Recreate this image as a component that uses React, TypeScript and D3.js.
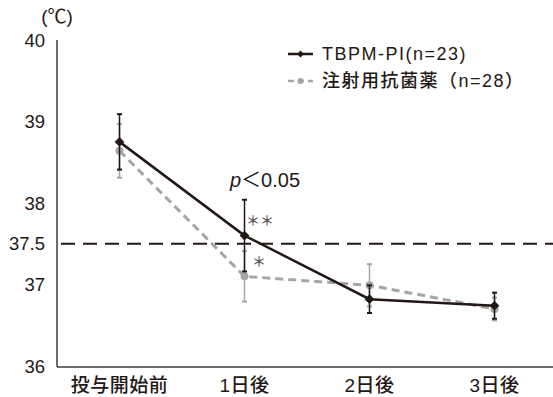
import React, { useEffect, useRef } from "react";
import * as d3 from "d3";

const categories = ["投与開始前", "1日後", "2日後", "3日後"];
const tbpmMean = [38.75, 37.6, 36.82, 36.74];
const tbpmErr = [0.34, 0.44, 0.17, 0.16];
const ivMean = [38.64, 37.1, 36.99, 36.7];
const ivErr = [0.33, 0.31, 0.26, 0.14];
const yTicks = [36, 37, 37.5, 38, 39, 40];
const seriesNames = ["TBPM-PI(n=23)", "注射用抗菌薬（n=28）"];

const FONT = "'Liberation Sans', 'Noto Sans CJK JP', sans-serif";
const JP = "'Noto Sans CJK JP', sans-serif";
const BLACK = "#231815";
const GRAY = "#a5a5a5";

const App = () => {
  const svgRef = useRef<SVGSVGElement>(null);

  useEffect(() => {
    const w = 553;
    const h = 397;
    const svg = d3.select(svgRef.current).attr("width", w).attr("height", h);
    svg.selectAll("*").remove();

    const left = 57;
    const xScale = d3.scaleBand().domain(categories).range([left, left + 500]);
    const cx = (c: string) => (xScale(c) as number) + xScale.bandwidth() / 2;
    const yScale = d3.scaleLinear().domain([36, 40]).range([366, 40]);

    // axes
    svg.append("line").attr("x1", left).attr("x2", left).attr("y1", 40).attr("y2", 367)
      .attr("stroke", "#3e3a39").attr("stroke-width", 1.5);
    svg.append("line").attr("x1", left).attr("x2", 553).attr("y1", 367).attr("y2", 367)
      .attr("stroke", "#3e3a39").attr("stroke-width", 1.5);

    svg.selectAll(".ytick").data(yTicks).join("text")
      .attr("x", 45).attr("y", (d) => yScale(d)).attr("dy", "0.36em")
      .attr("text-anchor", "end").attr("font-family", FONT).attr("font-size", 18.5)
      .attr("fill", BLACK).text((d) => String(d));

    svg.append("text").attr("x", 57).attr("y", 23).attr("text-anchor", "middle")
      .attr("font-family", FONT).attr("font-size", 19).attr("fill", BLACK).text("(℃)");

    svg.selectAll(".xlab").data(categories).join("text")
      .attr("x", (d) => cx(d)).attr("y", 392).attr("text-anchor", "middle")
      .attr("font-family", FONT).attr("font-size", 19).attr("font-weight", 500)
      .attr("letter-spacing", 0.5)
      .attr("fill", BLACK).text((d) => d);

    // 37.5 reference line
    svg.append("line").attr("x1", left + 4).attr("x2", 553)
      .attr("y1", yScale(37.5)).attr("y2", yScale(37.5))
      .attr("stroke", BLACK).attr("stroke-width", 2).attr("stroke-dasharray", "14,8");

    const line = d3.line<number>().x((_, i) => cx(categories[i])).y((d) => yScale(d));

    const drawErr = (mean: number[], err: number[], color: string) => {
      const g = svg.append("g");
      mean.forEach((m, i) => {
        const x = cx(categories[i]);
        g.append("line").attr("x1", x).attr("x2", x)
          .attr("y1", yScale(m + err[i])).attr("y2", yScale(m - err[i]))
          .attr("stroke", color).attr("stroke-width", 1.5);
        [m + err[i], m - err[i]].forEach((v) => {
          g.append("line").attr("x1", x - 2.5).attr("x2", x + 2.5)
            .attr("y1", yScale(v)).attr("y2", yScale(v))
            .attr("stroke", color).attr("stroke-width", 2);
        });
      });
    };

    // gray series
    drawErr(ivMean, ivErr, GRAY);
    svg.append("path").datum(ivMean).attr("d", line).attr("fill", "none")
      .attr("stroke", GRAY).attr("stroke-width", 3).attr("stroke-dasharray", "8,5");
    svg.selectAll(".ivpt").data(ivMean).join("circle")
      .attr("cx", (_, i) => cx(categories[i])).attr("cy", (d) => yScale(d))
      .attr("r", 4).attr("fill", GRAY);

    // black series
    drawErr(tbpmMean, tbpmErr, BLACK);
    svg.append("path").datum(tbpmMean).attr("d", line).attr("fill", "none")
      .attr("stroke", BLACK).attr("stroke-width", 2.5);
    const diamond = d3.symbol().type(d3.symbolDiamond2).size(60);
    svg.selectAll(".tbpt").data(tbpmMean).join("path")
      .attr("d", diamond)
      .attr("transform", (d, i) => `translate(${cx(categories[i])},${yScale(d)})`)
      .attr("fill", BLACK);

    // annotations
    const pt = svg.append("text").attr("x", 265).attr("y", 187).attr("text-anchor", "middle")
      .attr("font-family", FONT).attr("font-size", 20).attr("fill", BLACK);
    pt.append("tspan").attr("font-style", "italic").text("p");
    pt.append("tspan").text("＜0.05");
    svg.append("text").attr("x", 260).attr("y", 225).attr("text-anchor", "middle")
      .attr("font-family", JP).attr("font-size", 14).attr("font-weight", 500)
      .attr("fill", "#555").text("＊＊");
    svg.append("text").attr("x", 259).attr("y", 266).attr("text-anchor", "middle")
      .attr("font-family", JP).attr("font-size", 14).attr("font-weight", 500)
      .attr("fill", "#555").text("＊");

    // legend
    const legend = [
      { label: seriesNames[0], color: BLACK, y: 54, dash: null, mark: "d" },
      { label: seriesNames[1], color: GRAY, y: 81, dash: "6,4", mark: "c" },
    ];
    legend.forEach((l) => {
      svg.append("line").attr("x1", 288).attr("x2", 313).attr("y1", l.y).attr("y2", l.y)
        .attr("stroke", l.color).attr("stroke-width", 2.5)
        .attr("stroke-dasharray", l.dash);
      if (l.mark === "d") {
        svg.append("path").attr("d", d3.symbol().type(d3.symbolDiamond2).size(30))
          .attr("transform", `translate(300.5,${l.y})`).attr("fill", l.color);
      } else {
        svg.append("circle").attr("cx", 300.5).attr("cy", l.y).attr("r", 3).attr("fill", l.color);
      }
      svg.append("text").attr("x", 322).attr("y", l.y).attr("dy", "0.36em")
        .attr("font-family", FONT).attr("font-size", 18).attr("font-weight", 500)
        .attr("letter-spacing", 1.5)
        .attr("fill", BLACK).text(l.label);
    });
  }, []);

  return (
    <svg ref={svgRef} style={{ position: "absolute", left: 0, top: 0 }} />
  );
};

export default App;
